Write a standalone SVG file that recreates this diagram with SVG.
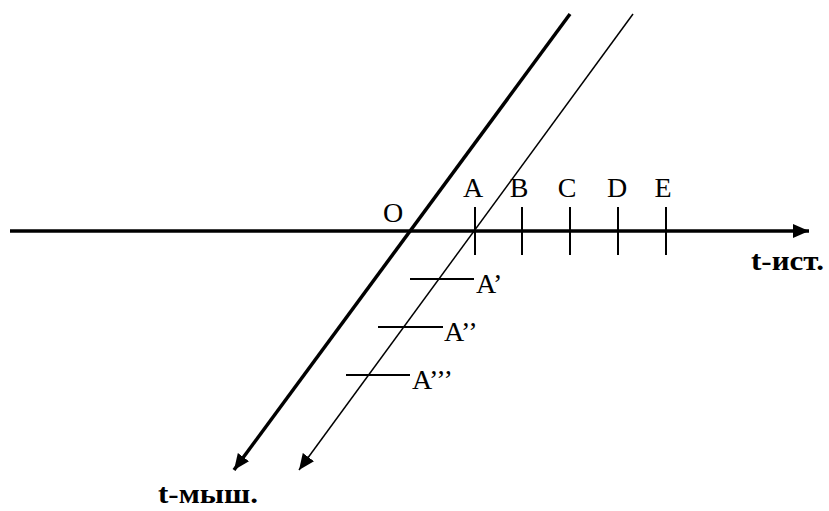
<svg xmlns="http://www.w3.org/2000/svg" width="829" height="511" viewBox="0 0 829 511">
<defs>
<marker id="ah" markerWidth="16" markerHeight="14" refX="16" refY="7" orient="auto" markerUnits="userSpaceOnUse">
<path d="M0,0 L16,7 L0,14 Z" fill="#000"/>
</marker>
</defs>
<style>
.lbl{font-family:"Liberation Serif","Times New Roman",serif;font-size:28px;fill:#000}
.ax{font-family:"Liberation Serif","Times New Roman",serif;font-size:28px;font-weight:bold;fill:#000}
.tk{stroke:#000;stroke-width:2;fill:none}
</style>
<rect width="829" height="511" fill="#fff"/>
<g id="connectors">
<line x1="10" y1="231" x2="809" y2="231" stroke="#000" stroke-width="3.5" marker-end="url(#ah)"/>
<line x1="570" y1="14" x2="234" y2="470" stroke="#000" stroke-width="3.5" marker-end="url(#ah)"/>
<line x1="633" y1="14" x2="299" y2="470" stroke="#000" stroke-width="1.5" marker-end="url(#ah)"/>
</g>
<g id="O"><text class="lbl" x="393" y="222" text-anchor="middle">O</text></g>
<g id="A"><line class="tk" x1="475" y1="207" x2="475" y2="255"/><text class="lbl" x="473" y="197" text-anchor="middle">A</text></g>
<g id="B"><line class="tk" x1="522" y1="207" x2="522" y2="255"/><text class="lbl" x="519" y="197" text-anchor="middle">B</text></g>
<g id="C"><line class="tk" x1="570" y1="207" x2="570" y2="255"/><text class="lbl" x="567" y="197" text-anchor="middle">C</text></g>
<g id="D"><line class="tk" x1="618" y1="207" x2="618" y2="255"/><text class="lbl" x="617" y="197" text-anchor="middle">D</text></g>
<g id="E"><line class="tk" x1="666" y1="207" x2="666" y2="255"/><text class="lbl" x="663" y="197" text-anchor="middle">E</text></g>
<g id="A1"><line class="tk" x1="410" y1="279" x2="474" y2="279"/><text class="lbl" x="476" y="293">A’</text></g>
<g id="A2"><line class="tk" x1="378" y1="327" x2="443" y2="327"/><text class="lbl" x="444" y="341">A’’</text></g>
<g id="A3"><line class="tk" x1="346" y1="375" x2="410" y2="375"/><text class="lbl" x="412" y="389">A’’’</text></g>
<g id="t-ist"><text class="ax" x="751" y="270" textLength="73" lengthAdjust="spacingAndGlyphs">t-ист.</text></g>
<g id="t-mysh"><text class="ax" x="158" y="503" textLength="100" lengthAdjust="spacingAndGlyphs">t-мыш.</text></g>
</svg>
